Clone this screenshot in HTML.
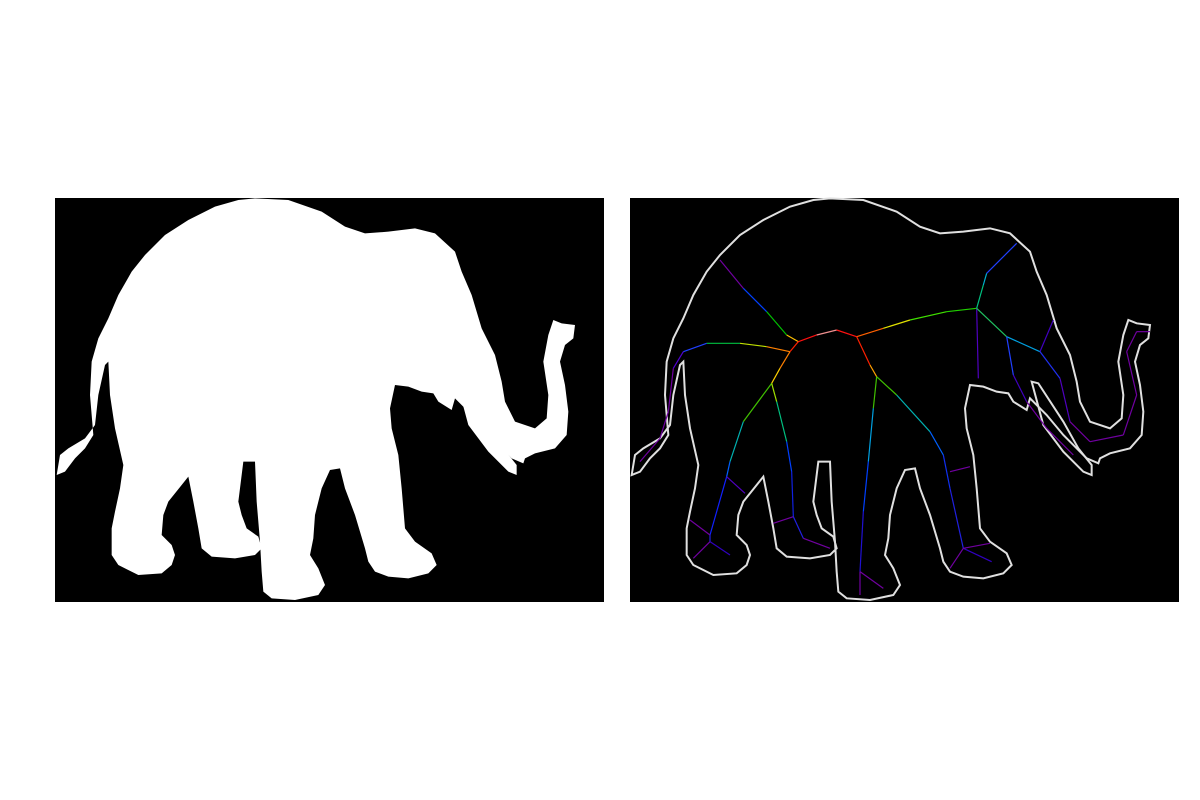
<!DOCTYPE html>
<html><head><meta charset="utf-8"><style>
html,body{margin:0;padding:0;background:#fff;width:1200px;height:800px;overflow:hidden}
svg{display:block}
</style></head><body>
<svg id="fig" width="1200" height="800" viewBox="0 0 1200 800">
  <rect x="55" y="198" width="549" height="404" fill="#000"/>
  <rect x="630" y="198" width="549" height="404" fill="#000"/>
  <g id="left" transform="translate(55,195) scale(0.33333)"></g>
  <g id="right" transform="translate(630,195) scale(0.33333)"></g>
</svg>
<script>
const bodyOutline = [[600,10],[700,15],[800,50],[870,95],[930,115],[1000,110],[1080,100],[1140,115],[1200,170],[1220,230],[1250,300],[1280,400],[1320,480],[1340,560],[1350,620],[1380,680],[1440,700],[1475,670],[1480,600],[1465,500],[1480,420],[1495,375],[1520,385],[1560,390],[1555,430],[1530,450],[1515,500],[1530,570],[1540,650],[1535,720],[1500,760],[1440,775],[1410,790],[1405,805],[1370,790],[1340,760],[1300,720],[1250,660],[1200,610],[1190,645],[1150,620],[1135,595],[1100,590],[1060,575],[1020,570],[1005,640],[1010,700],[1030,780],[1040,880],[1050,1000],[1080,1040],[1130,1075],[1145,1110],[1120,1135],[1060,1150],[1000,1145],[960,1130],[940,1100],[930,1060],[900,960],[870,880],[855,820],[825,825],[800,880],[780,960],[775,1030],[765,1080],[790,1120],[810,1170],[790,1200],[720,1215],[650,1210],[625,1190],[620,1130],[615,1040],[605,920],[600,800],[565,800],[555,880],[550,920],[560,960],[575,1000],[610,1025],[620,1060],[600,1080],[540,1090],[470,1085],[440,1060],[430,1000],[415,920],[400,845],[380,870],[340,920],[325,960],[320,1020],[350,1050],[360,1080],[350,1110],[320,1135],[250,1140],[190,1110],[170,1080],[170,1000],[180,950],[195,880],[205,810],[180,700],[165,600],[160,500],[150,510],[130,600],[120,690],[90,730],[40,760],[15,780],[5,840],[30,830],[60,790],[90,760],[115,720],[105,600],[110,500],[130,430],[160,370],[190,300],[230,230],[270,180],[330,120],[400,75],[480,35],[550,15]];
const tuskOutline = [[1205,560],[1225,565],[1300,680],[1345,760],[1385,810],[1385,840],[1360,830],[1300,770],[1240,690]];
const skeletonPaths = [
  [[[270,195],[340,280],[410,350],[470,420],[505,440]],['#7000a0','#0040ff','#00c000','#ffc000','#ff2000']],
  [[[505,440],[560,420],[620,405],[680,425],[760,400],[840,375],[950,350],[1040,340]],['#ff1010','#f09090','#ff1010','#ff6000','#e0e000','#40e000','#20d000']],
  [[[480,470],[410,455],[330,445],[230,445],[160,470],[130,520],[115,650],[90,730],[30,800]],['#ff8000','#c0e000','#00c040','#2040ff','#5000d0','#7000a0','#7000a0','#7000a0']],
  [[[505,440],[480,470],[450,520],[425,565]],['#ff2000','#ff8000','#ffd000']],
  [[[425,565],[340,680],[300,800],[290,845],[240,1020],[240,1040],[300,1080]],['#40c000','#00b0b0','#0060ff','#1020ff','#2020e0','#3000c0']],
  [[[425,565],[440,620],[470,740],[485,830],[490,965]],['#a0e000','#00c080','#0040ff','#1020e0']],
  [[[680,425],[720,510],[740,545]],['#ff2000','#ffa000']],
  [[[740,545],[730,640],[715,800],[700,950],[690,1130]],['#40c000','#00a0e0','#0040ff','#2010d0']],
  [[[740,545],[800,600],[900,710],[940,780],[960,880],[1000,1060],[1085,1100]],['#40c000','#00b0b0','#0060ff','#1030f0','#2020e0','#3000c0']],
  [[[1040,340],[1060,270],[1070,235],[1160,145]],['#00c080','#00b0d0','#2040ff']],
  [[[1040,340],[1045,550]],['#5000c0']],
  [[[1040,340],[1130,425],[1230,470],[1270,375]],['#20c060','#00a0e0','#4000c0']],
  [[[1230,470],[1290,550],[1320,680],[1380,740],[1480,720],[1520,600],[1490,470],[1520,410],[1560,410]],['#2030f0','#5000c0','#7000a0','#7000a0','#7000a0','#7000a0','#7000a0','#7000a0']],
  [[[1130,425],[1150,540],[1190,620],[1250,700],[1330,780]],['#2040ff','#4000c0','#7000a0','#7000a0']],
  [[[290,845],[345,895]],['#5000c0']],[[[240,1040],[190,1090]],['#7000a0']],
  [[[240,1020],[180,975]],['#7000a0']],[[[490,965],[430,985]],['#7000a0']],
  [[[490,965],[520,1030],[600,1060]],['#2020e0','#7000a0']],
  [[[690,1130],[760,1180]],['#7000a0']],[[[690,1130],[690,1200]],['#7000a0']],
  [[[960,830],[1020,815]],['#7000a0']],[[[1000,1060],[960,1120]],['#7000a0']],
  [[[1000,1060],[1080,1045]],['#7000a0']]
];
const NS='http://www.w3.org/2000/svg';
const pts = a => a.map(p=>p.join(',')).join(' ');
const L=document.getElementById('left'), R=document.getElementById('right');
let p=document.createElementNS(NS,'polygon');
p.setAttribute('points',pts(bodyOutline));p.setAttribute('fill','#fff');


L.appendChild(p);
p=document.createElementNS(NS,'polygon');
p.setAttribute('points',pts(tuskOutline));p.setAttribute('fill','#fff');


L.appendChild(p);
[[bodyOutline,'body-contour'],[tuskOutline,'tusk-contour']].forEach(([o,n])=>{
  const q=document.createElementNS(NS,'polygon');
  q.setAttribute('points',pts(o));q.setAttribute('fill','none');q.setAttribute('stroke','#e0e0e0');
  q.setAttribute('stroke-width','2');q.setAttribute('vector-effect','non-scaling-stroke');
  
  
  R.appendChild(q);
});
skeletonPaths.forEach(([ps,cols])=>{
  for(let i=0;i<ps.length-1;i++){
    const l=document.createElementNS(NS,'line');
    l.setAttribute('x1',ps[i][0]);l.setAttribute('y1',ps[i][1]);
    l.setAttribute('x2',ps[i+1][0]);l.setAttribute('y2',ps[i+1][1]);
    l.setAttribute('stroke',cols[Math.min(i,cols.length-1)]);
    l.setAttribute('stroke-width','1.2');l.setAttribute('vector-effect','non-scaling-stroke');
    
    
    R.appendChild(l);
  }
});
</script>
</body></html>
